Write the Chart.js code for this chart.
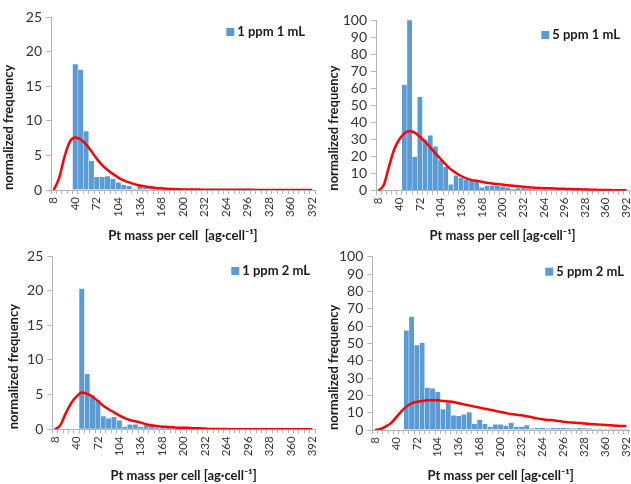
<!DOCTYPE html>
<html>
<head>
<meta charset="utf-8">
<script src="https://cdn.jsdelivr.net/npm/chart.js@4.4.1/dist/chart.umd.min.js"></script>
<style>
body { margin: 0; background: #fff; width: 631px; height: 484px; position: relative; overflow: hidden; }
canvas { position: absolute; }
</style>
</head>
<body>
<canvas id="chart1" width="321" height="244" style="left:0;top:0"></canvas>
<canvas id="chart2" width="316" height="244" style="left:315px;top:0"></canvas>
<canvas id="chart3" width="321" height="244" style="left:0;top:240px"></canvas>
<canvas id="chart4" width="316" height="244" style="left:315px;top:240px"></canvas>
<script>
// mass bins [ag/cell]
var massBins = [8,16,24,32,40,48,56,64,72,80,88,96,104,112,120,128,136,144,152,160,168,176,184,192,200,
    208,216,224,232,240,248,256,264,272,280,288,296,304,312,320,328,336,344,352,360,368,376,384,392];

// 1 ppm 1 mL
var bars1ppm1mL = [null,null,null,null,18.2,17.4,8.5,4.2,1.9,1.9,2.0,1.6,1.1,0.8,0.6,0.1,0.6,0.4,0.3,0.2,0.15,0.1,0.1,0.05,0.05,
    0.05,0.05,0.05,0.05,0,0,0,0,0,0,0,0,0,0,0,0,0,0,0,0,0,0,0,0];
var fit1ppm1mL = [0,1.7,4.8,7.0,7.6,7.3,6.6,5.6,4.5,3.6,2.9,2.3,1.8,1.4,1.1,0.85,0.65,0.5,0.4,0.3,0.24,0.18,0.13,0.1,0.08,
    0.07,0.06,0.06,0.05,0.04,0.03,0.03,0.03,0.02,0.02,0.02,0.02,0.02,0.01,0.01,0.01,0.01,0.01,0.01,0.01,0.01,0.01,0.01,0.01];

// 5 ppm 1 mL
var bars5ppm1mL = [null,null,null,null,null,62,100,20,55,30,32.5,26,18,14,3.7,9,7.5,6.5,6,5.5,2,3,3,2.8,2.5,
    2,1,1.5,1.5,1.2,1,0.8,0.7,0.6,0.5,0.5,0.4,0.3,0.3,0.2,0.2,0.2,0.15,0.1,0.1,0.1,0.1,0.05,0.05];
var fit5ppm1mL = [0,3.3,14,24,30,33.6,35,34,31.6,28.7,25.4,21.9,18.6,15.4,12.5,10.4,8.6,7.2,6.2,5.8,5.2,4.7,4.2,3.9,3.6,
    3.2,2.9,2.6,2.3,2.0,1.8,1.6,1.5,1.4,1.3,1.2,1.1,1.0,0.9,0.8,0.7,0.6,0.5,0.45,0.4,0.35,0.3,0.3,0.25];

// 1 ppm 2 mL
var bars1ppm2mL = [null,null,null,null,null,20.3,8,4.9,4.2,1.9,1.6,1.8,1.3,0.4,0.7,0.7,0.4,0.6,0.5,0.3,0.2,0.2,0.15,0.1,0.1,
    0.3,0.1,0.1,0.05,0,0,0,0,0,0,0,0,0,0,0,0,0,0,0,0,0,0,0,0];
var fit1ppm2mL = [0,0.6,2.3,3.75,4.7,5.3,5.1,4.7,4.1,3.4,2.9,2.45,2.0,1.6,1.35,1.15,0.96,0.72,0.58,0.48,0.38,0.34,0.29,0.24,0.24,
    0.2,0.15,0.15,0.1,0.05,0.03,0.03,0.03,0.02,0.02,0.02,0.02,0.02,0.02,0.02,0.02,0.02,0.02,0.02,0.02,0.02,0.02,0.02,0.02];

// 5 ppm 2 mL
var bars5ppm2mL = [null,null,null,null,null,null,57.5,65.5,49,50.5,24.5,24,22,12,16,8.5,8.2,9,10.3,3.5,6,3.5,2,3.3,3.3,
    2.5,4.3,2,2,2.8,1,1.2,1.2,1,1.2,1.3,1.3,1.1,1,1.2,1.1,0.9,0.6,0.8,0.5,0.5,0.7,0.8,0.6];
var fit5ppm2mL = [0,0.4,1.9,3.8,7.1,10.6,13.5,15.4,16.3,16.7,17.1,17.1,17.1,16.7,16.5,16.2,15.4,14.8,14.2,13.5,12.9,12.3,11.7,11.0,10.4,
    9.8,9.2,8.8,8.5,7.9,7.3,6.7,6.2,5.8,5.6,5.2,4.8,4.4,4.2,4.0,3.7,3.5,3.3,3.1,2.9,2.7,2.5,2.3,2.3];

var fontFamily = 'Lato, "Open Sans", sans-serif';
var axisGray = '#b4b4b4';
var barBlue = '#5b9bd5';

// legend drawn inside the plot, top right, like the excel one
var insideLegend = {
    id: 'insideLegend',
    afterDraw: function(chart, args, opts) {
        var ds = chart.data.datasets[0];
        var area = chart.chartArea;
        var ctx = chart.ctx;
        ctx.save();
        ctx.font = 'bold 13px ' + fontFamily;
        var w = ctx.measureText(ds.label).width;
        var xEnd = area.right - opts.right;
        var y = area.top + 15;
        ctx.fillStyle = '#1a1a1a';
        ctx.textAlign = 'right';
        ctx.textBaseline = 'middle';
        ctx.fillText(ds.label, xEnd, y);
        ctx.fillStyle = barBlue;
        ctx.fillRect(xEnd - w - 11, y - 4, 8, 8);
        ctx.restore();
    }
};

function initHistChart(canvasId, bars, fit, label, yMax, yStep, xTitle, box) {
    var cont = document.getElementById(canvasId).getContext('2d');
    return new Chart(cont, {
        type: 'bar',
        data: {
            labels: massBins,
            datasets: [{
                type: 'bar',
                label: label,
                data: bars,
                backgroundColor: barBlue,
                borderColor: 'rgba(255,255,255,0.55)',
                borderWidth: 0.5,
                categoryPercentage: 1,
                barPercentage: 1,
                order: 2
            }, {
                type: 'line',
                label: 'fit',
                data: fit,
                borderColor: '#ff0000',
                borderWidth: 2.5,
                pointRadius: 0,
                cubicInterpolationMode: 'monotone',
                fill: false,
                order: 1
            }]
        },
        options: {
            responsive: false,
            animation: false,
            layout: {
                padding: { left: box.padLeft, top: box.padTop, right: box.padRight, bottom: 0 }
            },
            scales: {
                x: {
                    grid: { offset: true, drawOnChartArea: false, tickLength: 4, color: axisGray },
                    border: { color: axisGray },
                    ticks: {
                        autoSkip: false,
                        minRotation: 90,
                        maxRotation: 90,
                        padding: 3,
                        color: '#333',
                        font: { family: fontFamily, size: 11.5 },
                        callback: function(value, index) {
                            return index % 4 === 0 ? this.getLabelForValue(value) : '';
                        }
                    },
                    title: {
                        display: true,
                        text: xTitle,
                        color: '#1a1a1a',
                        font: { family: fontFamily, size: 13, weight: 'bold' },
                        padding: { top: 0, bottom: 0 }
                    },
                    afterFit: function(scale) {
                        scale.height = box.xHeight;
                        scale.paddingLeft = 0;
                        scale.paddingRight = 0;
                    }
                },
                y: {
                    min: 0,
                    max: yMax,
                    grid: { drawOnChartArea: false, tickLength: 5, color: axisGray },
                    border: { color: axisGray },
                    ticks: {
                        stepSize: yStep,
                        autoSkip: false,
                        padding: 4,
                        color: '#333',
                        font: { family: fontFamily, size: 14 }
                    },
                    title: {
                        display: true,
                        text: 'normalized frequency',
                        align: 'start',
                        color: '#1a1a1a',
                        font: { family: fontFamily, size: 13, weight: 'bold' },
                        padding: { top: box.titlePad, bottom: 0 }
                    },
                    afterFit: function(scale) {
                        scale.width = box.yWidth;
                        scale.paddingTop = 0;
                        scale.paddingBottom = 0;
                    }
                }
            },
            plugins: {
                legend: { display: false },
                tooltip: { enabled: false },
                insideLegend: { right: box.legendRight }
            }
        },
        plugins: [insideLegend]
    });
}

document.addEventListener('DOMContentLoaded', function() {
    initHistChart('chart1', bars1ppm1mL, fit1ppm1mL, '1 ppm 1 mL', 25, 5, 'Pt mass per cell  [ag\u00b7cell\u207b\u00b9]',
        { padLeft: 0, padTop: 17, padRight: 6, yWidth: 51, xHeight: 54, titlePad: 1.5, legendRight: 10 });
    initHistChart('chart2', bars5ppm1mL, fit5ppm1mL, '5 ppm 1 mL', 100, 10, 'Pt mass per cell [ag\u00b7cell\u207b\u00b9]',
        { padLeft: 8, padTop: 20, padRight: 2, yWidth: 53, xHeight: 53.3, titlePad: 3.5, legendRight: 9 });
    initHistChart('chart3', bars1ppm2mL, fit1ppm2mL, '1 ppm 2 mL', 25, 5, 'Pt mass per cell [ag\u00b7cell\u207b\u00b9]',
        { padLeft: 3, padTop: 16, padRight: 6, yWidth: 49.3, xHeight: 54.7, titlePad: 3.5, legendRight: 5 });
    initHistChart('chart4', bars5ppm2mL, fit5ppm2mL, '5 ppm 2 mL', 100, 10, 'Pt mass per cell [ag\u00b7cell\u207b\u00b9]',
        { padLeft: 8, padTop: 16.7, padRight: 2, yWidth: 49.3, xHeight: 54, titlePad: 3, legendRight: 5 });
});
</script>
</body>
</html>
